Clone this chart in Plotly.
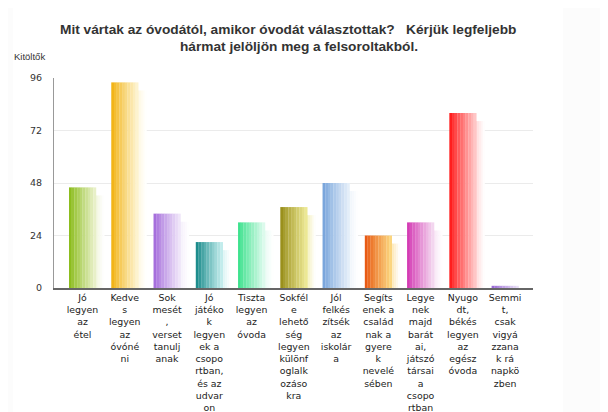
import plotly.graph_objects as go

categories = [
    "Jó<br>legyen<br>az<br>étel",
    "Kedve<br>s<br>legyen<br>az<br>óvóné<br>ni",
    "Sok<br>mesét<br>,<br>verset<br>tanulj<br>anak",
    "Jó<br>játéko<br>k<br>legyen<br>ek a<br>csopo<br>rtban,<br>és az<br>udvar<br>on",
    "Tiszta<br>legyen<br>az<br>óvoda",
    "Sokfél<br>e<br>lehető<br>ség<br>legyen<br>különf<br>oglalk<br>ozáso<br>kra",
    "Jól<br>felkés<br>zítsék<br>az<br>iskolár<br>a",
    "Segíts<br>enek a<br>család<br>nak a<br>gyere<br>k<br>nevelé<br>sében",
    "Legye<br>nek<br>majd<br>barát<br>ai,<br>játszó<br>társai<br>a<br>csopo<br>rtban",
    "Nyugo<br>dt,<br>békés<br>legyen<br>az<br>egész<br>óvoda",
    "Semmi<br>t,<br>csak<br>vigyá<br>zzana<br>k rá<br>napkö<br>zben",
]
values = [46, 94, 34, 21, 30, 37, 48, 24, 30, 80, 1]
y_ticks = [0, 24, 48, 72, 96]
title_lines = ["Mit vártak az óvodától, amikor óvodát választottak?\u00a0\u00a0 Kérjük legfeljebb",
               "hármat jelöljön meg a felsoroltakból."]

dark_colors = ["#8cbd1e", "#f2b418", "#a66fdc", "#1c8c8c", "#3ee28e", "#9a901c",
               "#7aa6dc", "#e85a14", "#d43cb4", "#ff1e1e", "#9a6ad6"]
light_colors = ["#e8f0c8", "#fdf3cf", "#efe5f9", "#c2ecec", "#dcfaec", "#ece894",
                "#e4eef9", "#fbd57e", "#f3d6ef", "#ffc6c6", "#e8def6"]


def hx(c):
    c = c.lstrip("#")
    return [int(c[i:i + 2], 16) for i in (0, 2, 4)]


def mix(a, b, t):
    A, B = hx(a), hx(b)
    return "#%02x%02x%02x" % tuple(round(A[i] + (B[i] - A[i]) * t) for i in range(3))


x = list(range(len(values)))
W = 0.64
N = 10
fig = go.Figure()

# soft shadow behind each bar
shadow_vals = [max(v - 3.7, 0) for v in values]
S = 5
for k in range(S):
    t = k / (S - 1)
    cols = [mix(mix(l, "#ffffff", 0.25), "#ffffff", 0.15 + 0.8 * t) for l in light_colors]
    fig.add_trace(go.Bar(
        x=x, y=shadow_vals, width=0.05, offset=W / 2 - 0.03 + k * 0.045,
        marker=dict(color=cols, line=dict(width=0)), hoverinfo="skip", showlegend=False))

# gradient bar made of vertical strips
for k in range(N):
    t = k / (N - 1)
    cols = [mix(d, l, t ** 0.9) for d, l in zip(dark_colors, light_colors)]
    fig.add_trace(go.Bar(
        x=x, y=values, width=W / N + 0.004, offset=-W / 2 + k * W / N,
        marker=dict(color=cols, line=dict(width=0)), hoverinfo="skip", showlegend=False))

# figure sits 8px in from page corner (body margin)
FW, FH, OFF = 600, 404, 8
PL, PR, PT, PB = 46, 75, 70, 124
pw, ph = FW - PL - PR, FH - PT - PB


def px_x(p):  # p in page pixels
    return (p - OFF - PL) / pw


def px_y(p):
    return (FH - PB - (p - OFF)) / ph


title_font = dict(family="Liberation Sans", size=13.7, color="#333333", weight="bold")
annotations = [
    dict(text=title_lines[0], xref="paper", yref="paper", x=px_x(288), y=px_y(30),
         xanchor="center", yanchor="middle", showarrow=False, font=title_font),
    dict(text=title_lines[1], xref="paper", yref="paper", x=px_x(298.5), y=px_y(46),
         xanchor="center", yanchor="middle", showarrow=False, font=title_font),
    dict(text="Kitöltők", xref="paper", yref="paper", x=px_x(29), y=px_y(57),
         xanchor="center", yanchor="middle", showarrow=False,
         font=dict(family="Liberation Sans", size=9.5, color="#333333")),
]

fig.update_layout(
    width=FW, height=FH,
    margin=dict(l=PL, r=PR, t=PT, b=PB, autoexpand=False),
    barmode="overlay",
    paper_bgcolor="#fcfcfc",
    plot_bgcolor="#ffffff",
    showlegend=False,
    xaxis=dict(
        range=[-0.675, 10.66], tickmode="array", tickvals=x, ticktext=categories,
        showgrid=False, showline=True, linecolor="#666666", linewidth=1.5,
        ticks="", tickfont=dict(family="DejaVu Sans", size=9.4, color="#222222"),
        zeroline=False, automargin=False,
    ),
    yaxis=dict(
        range=[0, 96], tickmode="array", tickvals=y_ticks,
        showgrid=True, gridcolor="#ebebeb", gridwidth=1,
        showline=True, linecolor="#999999", linewidth=1,
        ticks="", tickfont=dict(family="DejaVu Sans", size=9.5, color="#333333"),
        zeroline=False, ticklabelstandoff=9, automargin=False,
    ),
    shapes=[dict(type="rect", xref="paper", yref="paper",
                 x0=px_x(13), x1=px_x(563), y0=px_y(420), y1=px_y(8),
                 fillcolor="#ffffff", line=dict(width=0), layer="below")],
    annotations=annotations,
)

fig.write_html("out.html")
